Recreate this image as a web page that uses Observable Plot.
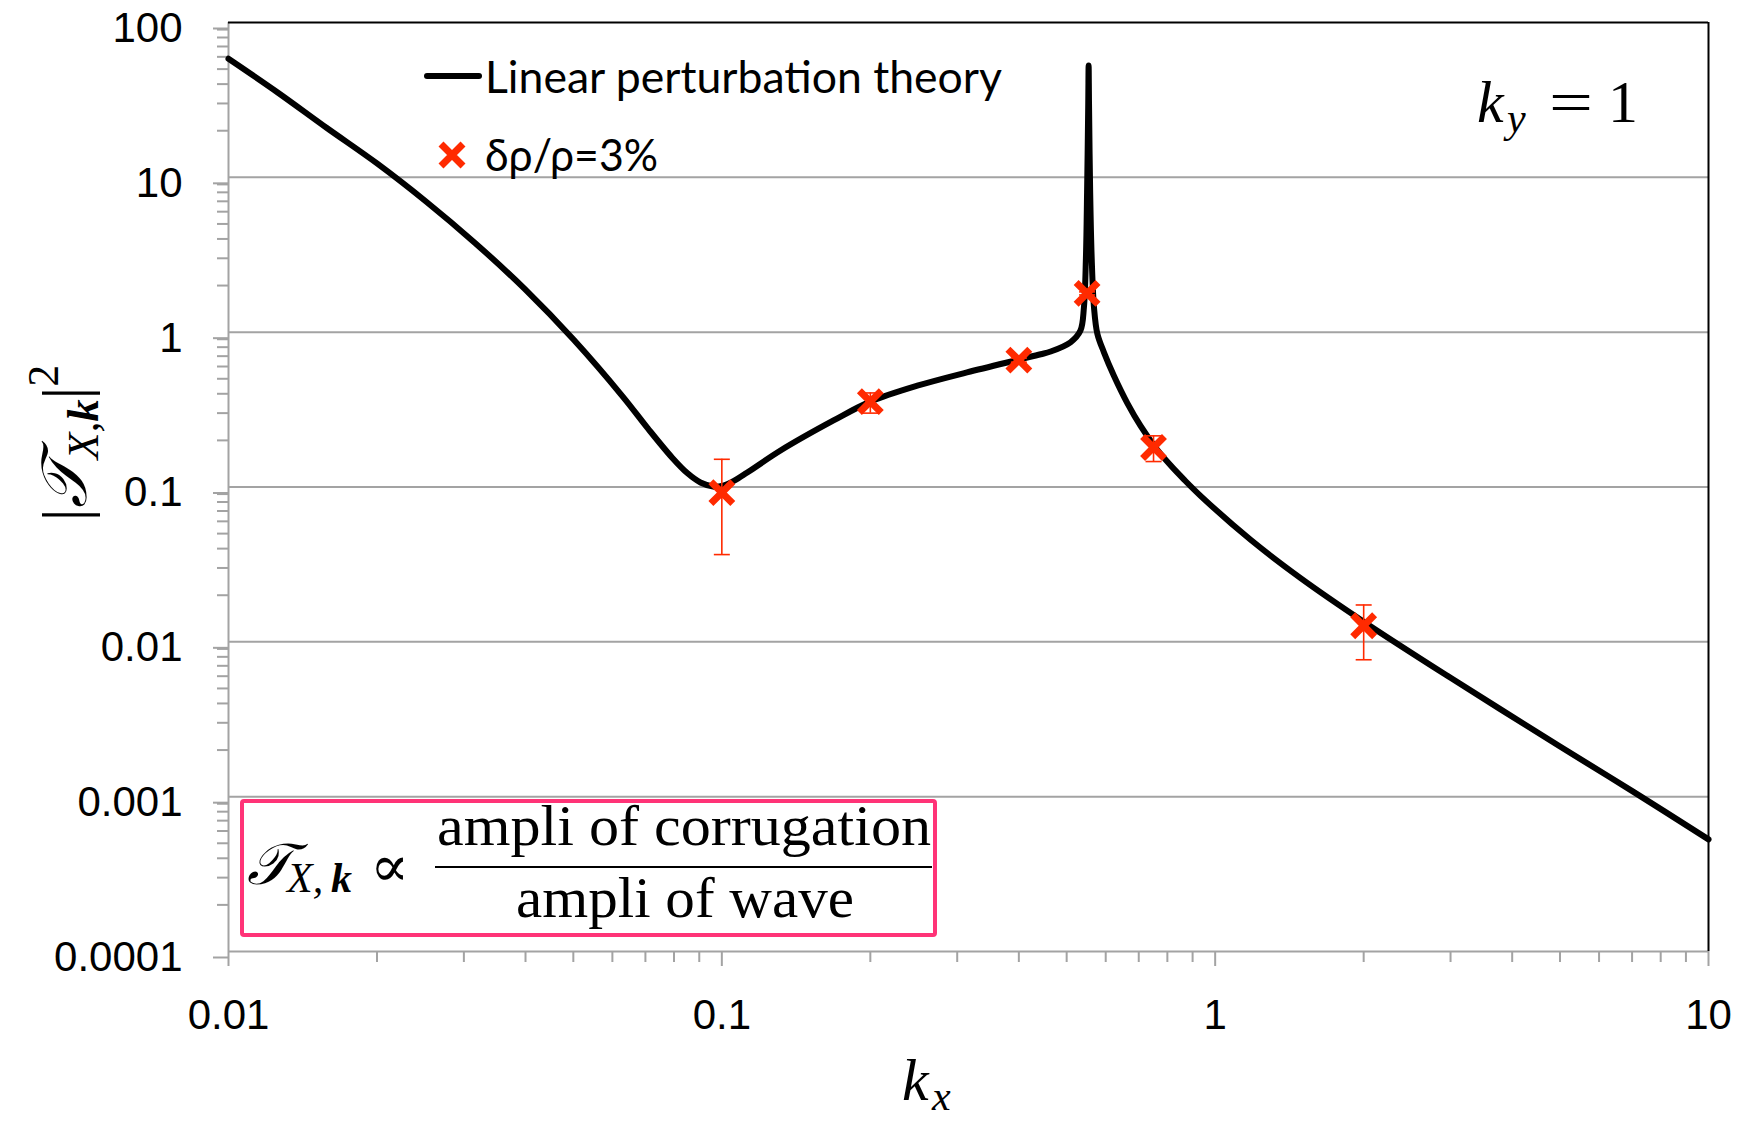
<!DOCTYPE html>
<html>
<head>
<meta charset="utf-8">
<script src="https://cdn.jsdelivr.net/npm/d3@7"></script>
<script src="https://cdn.jsdelivr.net/npm/@observablehq/plot@0.6"></script>
<style>
html, body { margin: 0; padding: 0; background: #fff; }
#chart { width: 1750px; height: 1121px; }
</style>
</head>
<body>
<div id="chart"></div>
<script>
// Linear perturbation theory curve: kx and |T|^2
const curveKx = [0.01, 0.0126, 0.0158, 0.02, 0.0251, 0.0316, 0.0398, 0.0501, 0.0631, 0.0708, 0.0794, 0.0851, 0.0905, 0.0965, 0.1, 0.106, 0.1126, 0.1315, 0.1688, 0.2, 0.249, 0.314, 0.4, 0.443, 0.464, 0.509, 0.533, 0.542, 0.547, 0.55, 0.553, 0.554, 0.555, 0.558, 0.562, 0.568, 0.577, 0.595, 0.623, 0.664, 0.706, 0.757, 0.812, 0.864, 0.934, 1.18, 1.49, 2.0, 3.0, 5.01, 7.06, 10];
const curveT  = [58.3, 35.2, 20.9, 12.3, 7.01, 3.77, 1.91, 0.893, 0.381, 0.239, 0.154, 0.123, 0.107, 0.1005, 0.1015, 0.11, 0.124, 0.172, 0.27, 0.356, 0.451, 0.55, 0.665, 0.72, 0.75, 0.86, 1.02, 1.45, 3, 8, 30, 52.7, 30, 8, 3, 1.45, 0.977, 0.741, 0.525, 0.347, 0.248, 0.18, 0.138, 0.112, 0.0877, 0.0456, 0.0258, 0.0135, 0.00586, 0.0021, 0.00107, 0.00053];

// Simulation points (δρ/ρ = 3%) with error bars
const simKx = [0.1, 0.2, 0.4, 0.55, 0.75, 2.0];
const simT  = [0.092, 0.356, 0.66, 1.78, 0.18, 0.0127];
const simLo = [0.0366, 0.30, 0.64, 1.74, 0.146, 0.00766];
const simHi = [0.151, 0.405, 0.68, 1.82, 0.214, 0.0173];

// Axis ticks
const yTicks = [0.0001, 0.001, 0.01, 0.1, 1, 10, 100];
const yTickLabels = ["0.0001", "0.001", "0.01", "0.1", "1", "10", "100"];
const xTicks = [0.01, 0.1, 1, 10];
const xTickLabels = ["0.01", "0.1", "1", "10"];

const curve = curveKx.map((k, i) => ({kx: k, T: curveT[i]}));
const sim = simKx.map((k, i) => ({kx: k, T: simT[i], lo: simLo[i], hi: simHi[i]}));

const yMinor = [];
for (let e = -4; e < 2; e++) for (let m = 2; m <= 9; m++) yMinor.push(m * Math.pow(10, e));
const xMinor = [];
for (let e = -2; e < 1; e++) for (let m = 2; m <= 9; m++) xMinor.push(m * Math.pow(10, e));

const yLab = new Map(yTicks.map((d, i) => [d, yTickLabels[i]]));
const xLab = new Map(xTicks.map((d, i) => [d, xTickLabels[i]]));

const grid = "#a3a3a3";
const red = "#ff2a00";
const capSymbol = { draw(ctx) { ctx.moveTo(-8, 0); ctx.lineTo(8, 0); } };

const plot = Plot.plot({
  width: 1750, height: 1121,
  marginLeft: 228, marginRight: 42, marginTop: 22, marginBottom: 170,
  style: "font-family: 'Liberation Sans', Arial, sans-serif; font-size: 42px; background: #fff; color: #000;",
  x: {type: "log", domain: [0.01, 10]},
  y: {type: "log", domain: [0.0001, 100]},
  marks: [
    Plot.ruleY(yTicks.slice(1, -1), {stroke: grid, strokeWidth: 2}),
    Plot.axisY(yMinor, {tickSize: 11, text: null, stroke: grid, strokeWidth: 2, label: null}),
    Plot.axisY(yTicks, {tickSize: 15, tickPadding: 31, stroke: grid, strokeWidth: 2, fill: "#000", dy: 6, fontSize: 42, tickFormat: d => yLab.get(d), label: null}),
    Plot.axisX(xMinor, {tickSize: 11, text: null, stroke: grid, strokeWidth: 2, label: null}),
    Plot.axisX(xTicks, {tickSize: 15, tickPadding: 33, stroke: grid, strokeWidth: 2, fill: "#000", fontSize: 42, tickFormat: d => xLab.get(d), label: null}),
    Plot.ruleX([0.01], {stroke: grid, strokeWidth: 2}),
    Plot.ruleY([0.0001], {stroke: grid, strokeWidth: 2}),
    Plot.ruleY([100], {stroke: "#000", strokeWidth: 2}),
    Plot.ruleX([10], {stroke: "#000", strokeWidth: 2}),
    Plot.line(curve, {x: "kx", y: "T", stroke: "#000", strokeWidth: 6, curve: "catmull-rom", strokeLinejoin: "round"}),
    Plot.ruleX(sim, {x: "kx", y1: "lo", y2: "hi", stroke: red, strokeWidth: 1.6}),
    Plot.dot(sim, {x: "kx", y: "lo", symbol: capSymbol, stroke: red, strokeWidth: 1.6, r: 3}),
    Plot.dot(sim, {x: "kx", y: "hi", symbol: capSymbol, stroke: red, strokeWidth: 1.6, r: 3}),
    Plot.dot(sim, {x: "kx", y: "T", symbol: "times", r: 10, stroke: red, strokeWidth: 7})
  ]
});

const svg = d3.select(plot);
const sans = "Lato, 'Open Sans', sans-serif";
const serif = "'Liberation Serif', 'DejaVu Serif', serif";
const txt = (x, y, family, size) => svg.append("text").attr("x", x).attr("y", y)
  .attr("text-anchor", "start").attr("font-family", family).attr("font-size", size);

// Legend
svg.append("line").attr("x1", 427).attr("x2", 479).attr("y1", 76).attr("y2", 76)
  .attr("stroke", "#000").attr("stroke-width", 6).attr("stroke-linecap", "round");
txt(485, 93, sans, 44).attr("textLength", 517).attr("lengthAdjust", "spacingAndGlyphs")
  .text("Linear perturbation theory");
svg.append("path").attr("d", "M441,144L463,166M463,144L441,166")
  .attr("stroke", red).attr("stroke-width", 7).attr("fill", "none");
txt(485, 171, sans, 44).attr("textLength", 173).attr("lengthAdjust", "spacingAndGlyphs")
  .text("δρ/ρ=3%");

// k_y = 1
txt(1477, 122, serif, 60).attr("font-style", "italic").text("k");
txt(1507, 132, serif, 42).attr("font-style", "italic").text("y");
txt(1549, 122, serif, 60).attr("textLength", 44).attr("lengthAdjust", "spacingAndGlyphs").text("=");
txt(1608, 122, serif, 60).text("1");

// x-axis title k_x
txt(902, 1100, serif, 60).attr("font-style", "italic").text("k");
txt(932, 1110, serif, 42).attr("font-style", "italic").text("x");

// y-axis title |T_{X,k}|^2
const yt = svg.append("text").attr("transform", "translate(86,443) rotate(-90)")
  .attr("text-anchor", "middle").attr("font-family", serif).attr("font-size", 64);
yt.append("tspan").text("|");
yt.append("tspan").attr("font-style", "italic").text("𝒯");
yt.append("tspan").attr("font-style", "italic").attr("font-size", 44).attr("dy", 12).text("X,");
yt.append("tspan").attr("font-style", "italic").attr("font-weight", "bold").attr("font-size", 44).text("k");
yt.append("tspan").attr("dy", -12).text("|");
yt.append("tspan").attr("font-size", 44).attr("dy", -28).text("2");

// formula box
svg.append("rect").attr("x", 242).attr("y", 801).attr("width", 693).attr("height", 134)
  .attr("fill", "#fff").attr("stroke", "#ff3377").attr("stroke-width", 4).attr("rx", 2);
txt(247, 884, serif, 58).attr("font-style", "italic").text("𝒯");
txt(287, 892, serif, 42).attr("font-style", "italic").text("X,");
txt(331, 892, serif, 42).attr("font-style", "italic").attr("font-weight", "bold").text("k");
txt(370, 886, serif, 58).text("∝");
txt(437, 845, serif, 56).attr("textLength", 494).attr("lengthAdjust", "spacingAndGlyphs").text("ampli of corrugation");
svg.append("line").attr("x1", 435).attr("x2", 932).attr("y1", 867).attr("y2", 867)
  .attr("stroke", "#000").attr("stroke-width", 2);
txt(516, 917, serif, 56).attr("textLength", 338).attr("lengthAdjust", "spacingAndGlyphs").text("ampli of wave");

document.getElementById("chart").appendChild(plot);
</script>
</body>
</html>
